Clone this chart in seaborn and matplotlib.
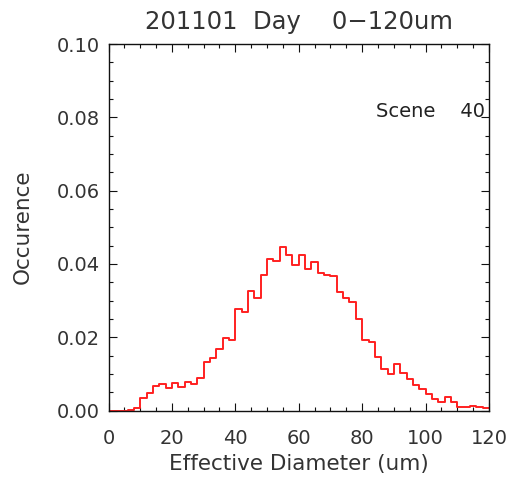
import numpy as np
import pandas as pd
import matplotlib
matplotlib.use("Agg")
import matplotlib.pyplot as plt
from matplotlib.ticker import MultipleLocator, FormatStrFormatter
import seaborn as sns

# ---- data ----
bin_edges = list(range(0, 122, 2))          # 0..120, width 2 um
occurrence = [
    0.0000, 0.0000, 0.0000, 0.0002, 0.0007,
    0.0033, 0.0047, 0.0068, 0.0072, 0.0061,
    0.0074, 0.0065, 0.0079, 0.0072, 0.0090,
    0.0133, 0.0143, 0.0168, 0.0199, 0.0193,
    0.0277, 0.0269, 0.0326, 0.0307, 0.0369,
    0.0414, 0.0407, 0.0446, 0.0425, 0.0396,
    0.0425, 0.0387, 0.0405, 0.0375, 0.0370,
    0.0368, 0.0323, 0.0307, 0.0296, 0.0249,
    0.0193, 0.0188, 0.0147, 0.0113, 0.0100,
    0.0127, 0.0103, 0.0085, 0.0069, 0.0059,
    0.0044, 0.0031, 0.0024, 0.0038, 0.0024,
    0.0009, 0.0009, 0.0013, 0.0009, 0.0006,
]
bin_centers = [e + 1 for e in bin_edges[:-1]]
x_ticks = [0, 20, 40, 60, 80, 100, 120]
y_ticks = [0.00, 0.02, 0.04, 0.06, 0.08, 0.10]
title_text = "201101  Day    0\u2212120um"
scene_text = "Scene    40"
x_label = "Effective Diameter (um)"
y_label = "Occurence"

df = pd.DataFrame({"diameter": bin_centers, "occ": occurrence})

sns.set_style("white")
plt.rcParams["font.family"] = ["DejaVu Sans"]
text_color = "#333333"

fig = plt.figure(figsize=(5.13, 4.80), dpi=100)
ax = fig.add_axes([108.5 / 513, 1 - 410.5 / 480, (489 - 108.5) / 513, (410.5 - 44) / 480])

sns.histplot(data=df, x="diameter", weights="occ", bins=bin_edges,
             element="step", fill=False, color="#ff2020", linewidth=1.4, ax=ax)

ax.set_xlim(0, 120)
ax.set_ylim(0, 0.10)
ax.set_xticks(x_ticks)
ax.set_yticks(y_ticks)
ax.xaxis.set_minor_locator(MultipleLocator(5))
ax.yaxis.set_minor_locator(MultipleLocator(0.005))
ax.yaxis.set_major_formatter(FormatStrFormatter("%.2f"))

for s in ax.spines.values():
    s.set_visible(True)
    s.set_color("#111111")
    s.set_linewidth(1.0)

ax.tick_params(which="both", direction="in", top=True, right=True,
               bottom=True, left=True, color="#111111", width=0.8,
               labelcolor=text_color)
ax.tick_params(which="major", length=6)
ax.tick_params(which="minor", length=3)
ax.tick_params(axis="x", which="major", pad=13, labelsize=14)
ax.tick_params(axis="y", which="major", pad=6, labelsize=14)

ax.set_xlabel(x_label, fontsize=15.5, color=text_color)
ax.set_ylabel(y_label, fontsize=15.5, color=text_color)
ax.xaxis.set_label_coords(0.5, -0.12)
ax.yaxis.set_label_coords(-0.2, 0.5)
ax.xaxis.label.set_va("top")

ax.set_title(title_text, fontsize=17.5, color=text_color, pad=11)
ax.text(0.99, 0.80, scene_text, transform=ax.transAxes, ha="right",
        va="baseline", fontsize=14, color="#222222")

fig.savefig("out.png", dpi=100)
